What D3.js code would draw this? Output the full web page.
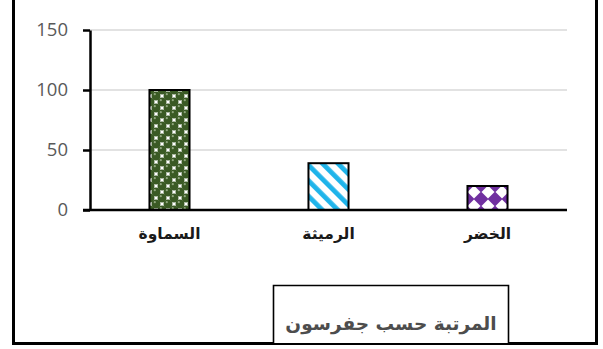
<!DOCTYPE html>
<html>
<head>
<meta charset="utf-8">
<script src="https://cdn.jsdelivr.net/npm/d3@7"></script>
<style>
  html, body { margin: 0; padding: 0; background: #fff; }
  svg { display: block; }
</style>
</head>
<body>
<svg id="chart" width="603" height="349"></svg>
<script>
// City rank data (Jefferson primate-city index)
const categories = ["السماوة", "الرميثة", "الخضر"];
const values = [100, 39, 20];
const yTicks = [0, 50, 100, 150];
const legendTitle = "المرتبة حسب جفرسون";

const svg = d3.select("#chart");
const defs = svg.append("defs");

// Pattern 1: dark green shaded spheres in a checker layout
const p1 = defs.append("pattern").attr("id", "pat-green")
  .attr("patternUnits", "userSpaceOnUse").attr("width", 12).attr("height", 12)
  .attr("x", 150).attr("y", 90);
p1.append("rect").attr("width", 12).attr("height", 12).attr("fill", "#ffffff");
[[0, 0], [12, 0], [0, 12], [12, 12], [6, 6]].forEach(([cx, cy]) => {
  p1.append("circle").attr("cx", cx).attr("cy", cy).attr("r", 4.5).attr("fill", "#3a5a24");
  p1.append("circle").attr("cx", cx - 1.2).attr("cy", cy - 1.8).attr("r", 1.1).attr("fill", "#8fa57d");
});

// Pattern 2: light blue wide downward diagonal stripes
const p2 = defs.append("pattern").attr("id", "pat-blue")
  .attr("patternUnits", "userSpaceOnUse").attr("width", 11).attr("height", 11)
  .attr("patternTransform", "rotate(-45)");
p2.append("rect").attr("width", 11).attr("height", 11).attr("fill", "#ffffff");
p2.append("rect").attr("x", 0).attr("width", 4.8).attr("height", 11).attr("fill", "#1fb4ea");

// Pattern 3: purple with white diamonds
const p3 = defs.append("pattern").attr("id", "pat-purple")
  .attr("patternUnits", "userSpaceOnUse").attr("width", 14).attr("height", 14)
  .attr("x", 467).attr("y", 185);
p3.append("rect").attr("width", 14).attr("height", 14).attr("fill", "#7030a0");
p3.append("path").attr("d", "M7,0.5 L13.5,7 L7,13.5 L0.5,7 Z").attr("fill", "#ffffff");

const patterns = ["url(#pat-green)", "url(#pat-blue)", "url(#pat-purple)"];

// Outer frame (open at the top edge)
svg.append("path").attr("d", "M13.5,-2 V343.5 H596.5 V-2")
  .attr("fill", "none").attr("stroke", "#000").attr("stroke-width", 3);

const x = d3.scaleBand().domain(categories).range([90, 567])
  .paddingInner(0.748).paddingOuter(0.374);
const y = d3.scaleLinear().domain([0, 150]).range([210, 30]);

// Gridlines
svg.append("g").selectAll("line").data(yTicks.filter(d => d > 0)).join("line")
  .attr("x1", 90).attr("x2", 567)
  .attr("y1", d => y(d)).attr("y2", d => y(d))
  .attr("stroke", "#d9d9d9").attr("stroke-width", 1.3);

// Bars
svg.append("g").selectAll("rect").data(values).join("rect")
  .attr("x", (d, i) => x(categories[i]))
  .attr("y", d => y(d))
  .attr("width", x.bandwidth())
  .attr("height", d => y(0) - y(d))
  .attr("fill", (d, i) => patterns[i])
  .attr("stroke", "#000").attr("stroke-width", 2);

// Y axis
const yAxis = svg.append("g").attr("transform", "translate(90,0)")
  .call(d3.axisLeft(y).tickValues(yTicks).tickSize(7).tickPadding(15).tickSizeOuter(0));
yAxis.select(".domain").attr("stroke", "#000").attr("stroke-width", 2.5);
yAxis.selectAll(".tick line").attr("stroke", "#000").attr("stroke-width", 2.5);
yAxis.selectAll(".tick text")
  .attr("fill", "#595959").attr("font-family", "'Open Sans', 'Liberation Sans', sans-serif")
  .attr("font-size", 18.5);

// X axis baseline
const xAxis = svg.append("g").attr("transform", `translate(0,${y(0)})`)
  .call(d3.axisBottom(x).tickSize(0).tickPadding(18).tickSizeOuter(0));
xAxis.select(".domain").attr("d", "M83,0H567").attr("stroke", "#000").attr("stroke-width", 2.5);
xAxis.selectAll(".tick text")
  .attr("fill", "#1a1a1a").attr("font-family", "'DejaVu Sans', sans-serif")
  .attr("font-weight", "bold").attr("font-size", 15.5).attr("direction", "rtl");

// Legend / title box
svg.append("path").attr("d", "M273.5,343 V285.5 H508.5 V343")
  .attr("fill", "#fff").attr("stroke", "#000").attr("stroke-width", 1.6);
svg.append("text").attr("x", 391).attr("y", 330)
  .attr("text-anchor", "middle").attr("direction", "rtl")
  .attr("font-family", "'DejaVu Sans', sans-serif").attr("font-weight", "bold")
  .attr("font-size", 18.5).attr("fill", "#4d4d4d")
  .text(legendTitle);
</script>
</body>
</html>
